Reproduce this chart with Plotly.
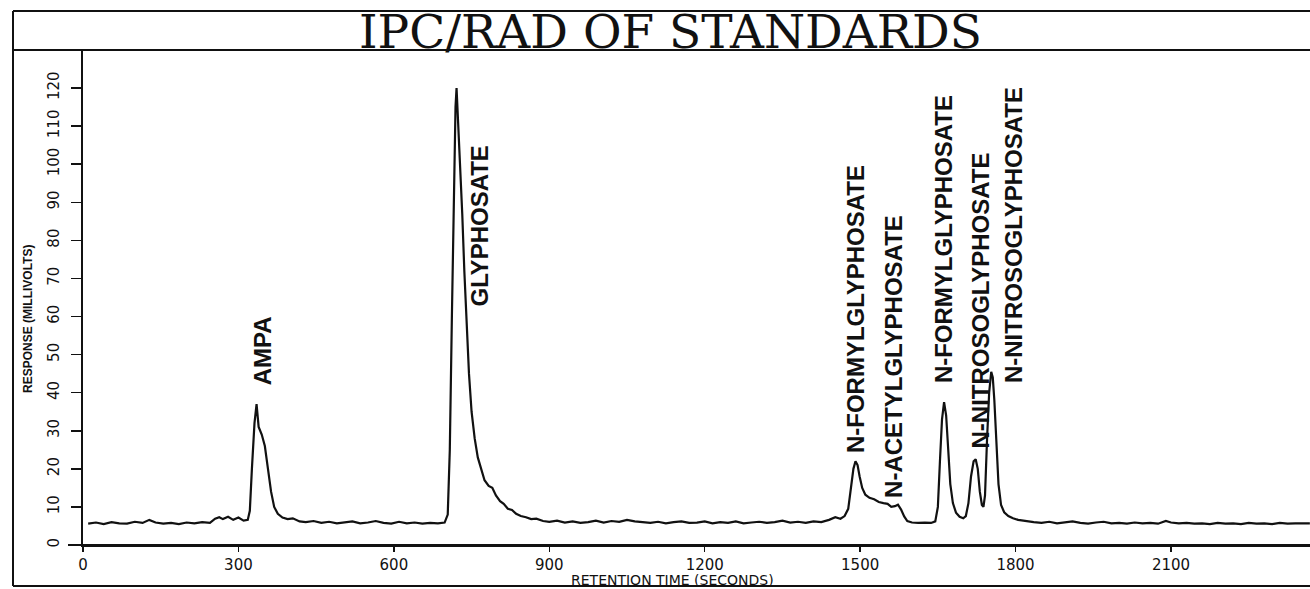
import plotly.graph_objects as go

# ---------------- data ----------------
time_s = [10, 25, 40, 55, 70, 85, 100, 115, 128, 140, 155, 170, 185, 200, 215, 230, 245, 255, 263, 270, 280, 290, 300, 310, 318,
          322, 326, 331, 335, 339, 345, 351, 357, 363, 369, 376, 385, 395, 405, 418, 430, 445, 460, 475, 490, 505, 520, 535,
          550, 565, 580, 595, 610, 625, 640, 655, 670, 685, 698,
          704, 708, 712, 716, 719, 721, 724, 728, 732, 736, 740, 745, 750, 756, 762, 768, 775, 783, 790, 797, 805, 812, 820,
          828, 836, 845, 855, 865, 875, 888, 900, 915, 930, 945, 960, 975, 990, 1005, 1020, 1035, 1050, 1065, 1080, 1095,
          1110, 1125, 1140, 1155, 1170, 1185, 1200, 1215, 1230, 1245, 1260, 1275, 1290, 1305, 1320, 1335, 1350, 1365, 1380,
          1395, 1410, 1425, 1440, 1452, 1462, 1470, 1477, 1482, 1487, 1491, 1495, 1499, 1504, 1510, 1518, 1527, 1536, 1545,
          1553, 1560, 1567, 1573, 1579, 1585, 1591, 1600, 1612, 1625, 1637, 1645, 1650, 1654, 1658, 1662, 1666, 1670, 1674,
          1679, 1685, 1692, 1699, 1704, 1709, 1714, 1719, 1723, 1727, 1731, 1735, 1738, 1741, 1745, 1749, 1753, 1756, 1759,
          1763, 1767, 1772, 1778, 1786, 1795, 1805, 1820, 1835, 1850, 1865, 1880, 1895, 1910, 1925, 1940, 1955, 1970, 1985,
          2000, 2015, 2030, 2045, 2060, 2075, 2090, 2100, 2115, 2130, 2145, 2160, 2175, 2190, 2205, 2220, 2235, 2250, 2265,
          2280, 2295, 2310, 2325, 2340, 2355, 2368]
response_mv = [5.6, 5.9, 5.5, 6.0, 5.7, 5.6, 6.1, 5.8, 6.6, 5.9, 5.6, 5.8, 5.5, 5.9, 5.7, 6.0, 5.8, 6.9, 7.3, 6.8, 7.4, 6.6, 7.2, 6.4, 6.6,
               9, 20, 32, 37, 31, 29, 26, 20, 14, 10, 8.2, 7.2, 6.8, 7.0, 6.2, 6.0, 6.3, 5.8, 6.1, 5.7, 5.9, 6.2, 5.7,
               5.9, 6.3, 5.8, 5.6, 6.1, 5.7, 5.9, 5.6, 5.8, 5.7, 5.9,
               8, 25, 60, 95, 115, 120, 112, 100, 87, 72, 58, 45, 35, 28, 23, 20, 17, 15.5, 15, 13, 11.5, 10.8, 9.5,
               9.2, 8.2, 7.6, 7.3, 6.8, 6.9, 6.3, 6.1, 6.4, 5.9, 6.2, 5.8, 6.0, 6.4, 5.9, 6.3, 6.1, 6.6, 6.2, 6.0, 5.8,
               6.1, 5.7, 6.0, 6.2, 5.8, 5.9, 6.2, 5.7, 6.0, 5.8, 6.2, 5.7, 5.9, 6.1, 5.8, 6.0, 6.4, 5.9, 6.1,
               5.8, 6.2, 6.0, 6.6, 7.3, 6.9, 7.6, 9.5, 15, 20, 22, 21, 18, 15, 13.2, 12.4, 12.0, 11.3, 11.0,
               10.8, 10.0, 10.2, 10.6, 9.3, 7.5, 6.3, 5.9, 5.8, 5.9, 5.8, 6.2, 10, 22, 33, 37.5, 34, 25, 16,
               11, 8.5, 7.4, 7.0, 7.6, 11, 18, 22, 22.5, 20, 14, 10.5, 10, 13, 28, 40, 45.5, 44, 38,
               26, 16, 10.5, 8.6, 7.6, 7.0, 6.6, 6.2, 6.0, 5.8, 6.1, 5.7, 5.9, 6.2, 5.8, 5.6, 5.9, 6.1, 5.7,
               5.8, 5.6, 5.9, 5.7, 5.8, 5.6, 6.3, 5.9, 5.7, 5.8, 5.6, 5.7, 5.5, 5.8, 5.6, 5.7, 5.5, 5.8, 5.6,
               5.7, 5.5, 5.8, 5.6, 5.7, 5.6, 5.7]

peak_names = ["AMPA", "GLYPHOSATE", "N-FORMYLGLYPHOSATE", "N-ACETYLGLYPHOSATE",
              "N-FORMYLGLYPHOSATE", "N-NITROSOGLYPHOSATE", "N-NITROSOGLYPHOSATE"]
label_time = [347, 766, 1490, 1564, 1660, 1732, 1795]
label_base = [41.5, 62.2, 23.6, 11.8, 42.0, 24.9, 42.0]

x_ticks = [0, 300, 600, 900, 1200, 1500, 1800, 2100]
y_ticks = [0, 10, 20, 30, 40, 50, 60, 70, 80, 90, 100, 110, 120]

title_text = "IPC/RAD OF STANDARDS"
x_title = "RETENTION TIME (SECONDS)"
y_title = "RESPONSE (MILLIVOLTS)"

# ---------------- figure ----------------
fig = go.Figure()
fig.add_trace(go.Scatter(x=time_s, y=response_mv, mode="lines",
                         line=dict(color="#111111", width=2.2), hoverinfo="skip", showlegend=False))

W, H = 1310, 589
L, R, T, B = 83, 0, 50, 44
pw, ph = W - L - R, H - T - B


def px(xp):
    return (xp - L) / pw


def py(yp):
    return (H - B - yp) / ph


annotations = []
for name, xt, yb in zip(peak_names, label_time, label_base):
    annotations.append(dict(x=xt, y=yb, xref="x", yref="y", text="<b>" + name + "</b>",
                            textangle=-90, showarrow=False, xanchor="center", yanchor="bottom",
                            font=dict(family="Liberation Sans", size=24, color="#111111")))

annotations.append(dict(x=px(670), y=py(32), xref="paper", yref="paper", text=title_text,
                        showarrow=False, xanchor="center", yanchor="middle",
                        font=dict(family="DejaVu Serif", size=47, color="#111111")))
annotations.append(dict(x=px(672), y=py(580), xref="paper", yref="paper", text=x_title,
                        showarrow=False, xanchor="center", yanchor="middle",
                        font=dict(family="DejaVu Sans", size=14, color="#111111")))
annotations.append(dict(x=px(28), y=py(319), xref="paper", yref="paper", text="<b>" + y_title + "</b>",
                        textangle=-90, showarrow=False, xanchor="center", yanchor="middle",
                        font=dict(family="Liberation Sans", size=12, color="#111111")))

line_style = dict(color="#111111", width=2)
shapes = [
    dict(type="line", xref="paper", yref="paper", x0=px(13), x1=1.01, y0=py(11), y1=py(11), line=line_style),
    dict(type="line", xref="paper", yref="paper", x0=px(13), x1=1.01, y0=py(50), y1=py(50), line=line_style),
    dict(type="line", xref="paper", yref="paper", x0=px(13), x1=1.01, y0=py(586), y1=py(586), line=line_style),
    dict(type="line", xref="paper", yref="paper", x0=px(13), x1=px(13), y0=py(11), y1=py(586), line=line_style),
    dict(type="line", xref="paper", yref="paper", x0=px(68), x1=1.01, y0=py(545), y1=py(545), line=line_style),
]

fig.update_layout(
    width=W, height=H,
    margin=dict(l=L, r=R, t=T, b=B, pad=0),
    paper_bgcolor="white", plot_bgcolor="white",
    showlegend=False, hovermode=False,
    annotations=annotations, shapes=shapes,
    xaxis=dict(range=[0, pw / 0.5181], tickvals=x_ticks, ticktext=[str(v) for v in x_ticks],
               showgrid=False, zeroline=False, showline=True, linecolor="#111111", linewidth=2,
               ticks="outside", ticklen=5, tickwidth=1.5, tickcolor="#111111",
               tickfont=dict(family="DejaVu Sans", size=15, color="#111111")),
    yaxis=dict(range=[0, ph / 3.808], tickvals=y_ticks, ticktext=[str(v) for v in y_ticks],
               showgrid=False, zeroline=False, showline=True, linecolor="#111111", linewidth=2,
               ticks="outside", ticklen=10, tickwidth=1.5, tickcolor="#111111", tickangle=-90,
               ticklabelstandoff=6,
               tickfont=dict(family="DejaVu Sans", size=15, color="#111111")),
)

fig.write_html("out.html", config={"displayModeBar": False, "staticPlot": True},
               post_script="document.body.style.margin='0px';document.body.style.overflow='hidden';")
